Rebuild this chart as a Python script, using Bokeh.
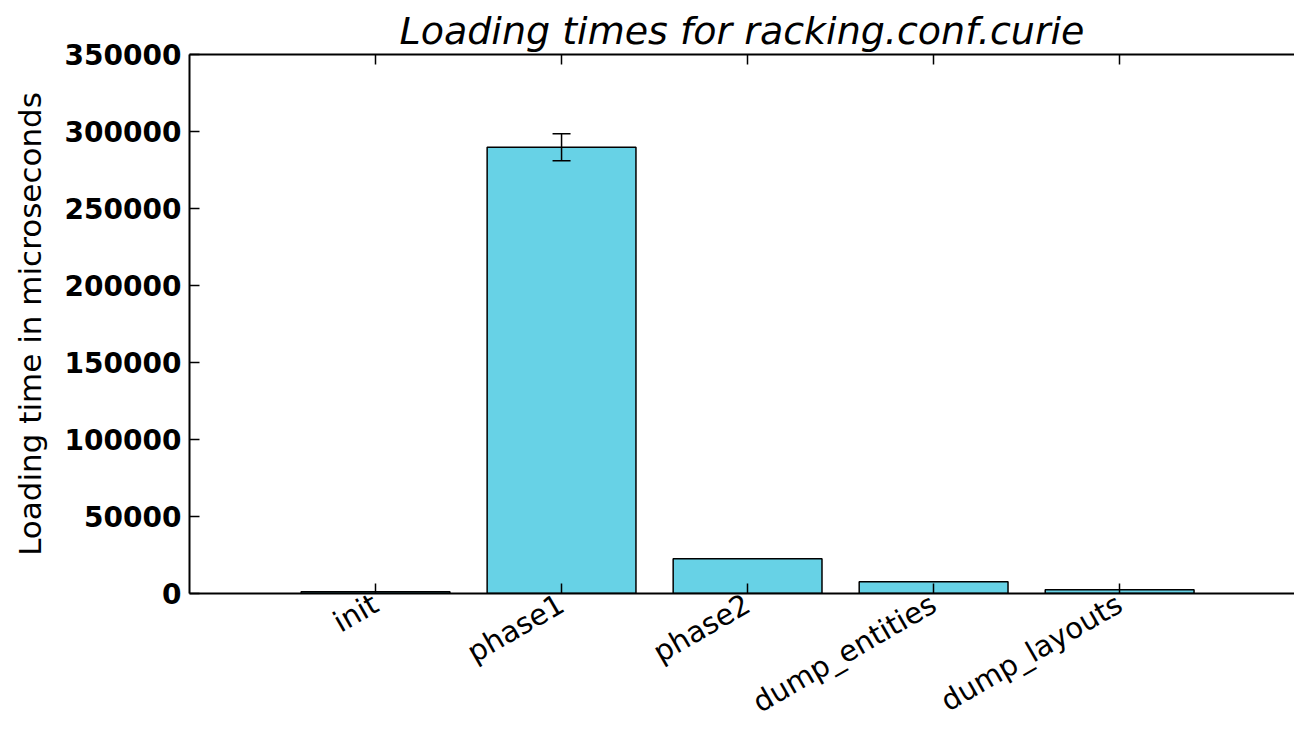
from bokeh.plotting import figure
from bokeh.models import (ColumnDataSource, Range1d, FixedTicker, LinearAxis,
                          Whisker, TeeHead, NumeralTickFormatter, Title)
from bokeh.embed import file_html
from bokeh.resources import INLINE
import math

# ---- data ----
stages = ["init", "phase1", "phase2", "dump_entities", "dump_layouts"]
mean_us = [1200, 289800, 22600, 7700, 2500]
err_us = [0, 8800, 0, 0, 0]
y_ticks = [0, 50000, 100000, 150000, 200000, 250000, 300000, 350000]

xs = list(range(len(stages)))
src = ColumnDataSource(dict(x=xs, top=mean_us, name=stages))
err_idx = [i for i, e in enumerate(err_us) if e > 0]
err_src = ColumnDataSource(dict(
    x=[xs[i] for i in err_idx],
    lower=[mean_us[i] - err_us[i] for i in err_idx],
    upper=[mean_us[i] + err_us[i] for i in err_idx],
))

p = figure(width=1294, height=737, output_backend="svg", toolbar_location=None,
           x_range=Range1d(-1, 4.94), y_range=Range1d(0, 350000),
           min_border_left=189, min_border_right=0, min_border_top=54,
           min_border_bottom=144, x_axis_location=None, y_axis_location=None)
p.outline_line_color = None
p.xgrid.visible = False
p.ygrid.visible = False
p.background_fill_color = "white"
p.border_fill_color = "white"

p.vbar(x="x", top="top", width=0.8, source=src, fill_color="#67d2e6",
       line_color="black", line_width=1.5)

p.add_layout(Whisker(base="x", lower="lower", upper="upper", source=err_src,
                     level="overlay", line_color="black", line_width=1.5,
                     upper_head=TeeHead(size=18, line_color="black", line_width=1.5),
                     lower_head=TeeHead(size=18, line_color="black", line_width=1.5)))

ticker_x = FixedTicker(ticks=xs)


def style_ticks(ax):
    ax.major_tick_in = 10
    ax.major_tick_out = 0
    ax.minor_tick_in = 0
    ax.minor_tick_out = 0
    ax.axis_line_width = 2
    ax.major_tick_line_width = 1.5
    ax.axis_line_color = "black"
    ax.major_tick_line_color = "black"


xb = LinearAxis(ticker=ticker_x)
xb.major_label_overrides = {i: s for i, s in enumerate(stages)}
xb.major_label_orientation = math.pi / 6
xb.major_label_text_font = "DejaVu Sans"
xb.major_label_text_font_size = "29px"
xb.major_label_text_color = "black"
xb.major_label_standoff = 8
style_ticks(xb)
p.add_layout(xb, "below")

xt = LinearAxis(ticker=ticker_x)
xt.major_label_text_font_size = "0px"
xt.major_label_overrides = {i: "" for i in xs}
xt.major_label_standoff = 0
style_ticks(xt)
p.add_layout(xt, "above")

title = Title(text="Loading times for racking.conf.curie", align="center",
              text_font="DejaVu Sans", text_font_style="italic",
              text_font_size="38px", text_color="black", offset=6,
              standoff=4)
p.add_layout(title, "above")

yl = LinearAxis(ticker=FixedTicker(ticks=y_ticks),
                formatter=NumeralTickFormatter(format="0"))
yl.axis_label = "Loading time in microseconds"
yl.axis_label_text_font = "DejaVu Sans"
yl.axis_label_text_font_style = "normal"
yl.axis_label_text_font_size = "31px"
yl.axis_label_text_color = "black"
yl.axis_label_standoff = 14
yl.major_label_text_font = "DejaVu Sans"
yl.major_label_text_font_style = "bold"
yl.major_label_text_font_size = "28px"
yl.major_label_text_color = "black"
yl.major_label_standoff = 8
style_ticks(yl)
p.add_layout(yl, "left")

open("out.html", "w").write(file_html(p, INLINE))
